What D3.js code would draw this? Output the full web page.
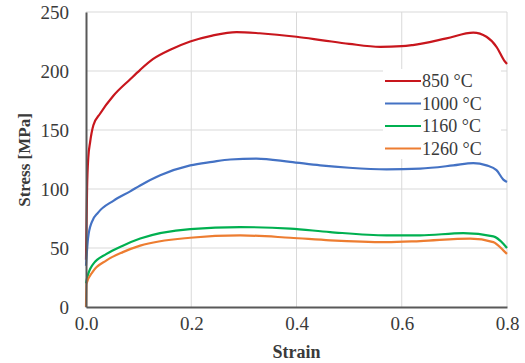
<!DOCTYPE html>
<html>
<head>
<meta charset="utf-8">
<script src="https://cdn.jsdelivr.net/npm/d3@7"></script>
<style>
  body { margin: 0; background: #fff; }
  svg text { font-family: "Liberation Serif", "Times New Roman", serif; fill: #3a3a3a; }
  .grid line { stroke: #d9d9d9; stroke-width: 1; }
  .axis path, .axis line { stroke: #595959; }
</style>
</head>
<body>
<svg width="525" height="363"></svg>
<script>
// series data (strain, stress MPa)
var seriesNames = ["850 \u00B0C", "1000 \u00B0C", "1160 \u00B0C", "1260 \u00B0C"];
var seriesColors = ["#c8161d", "#4472c4", "#00b050", "#ed7d31"];

var strain850 = [0, 0.002, 0.0044, 0.0076, 0.014, 0.027, 0.052, 0.084, 0.103, 0.127, 0.16, 0.198, 0.24, 0.286, 0.33, 0.4, 0.45, 0.5, 0.559, 0.6, 0.621, 0.685, 0.736, 0.761, 0.78, 0.796, 0.8];
var stress850 = [40, 100, 127, 139, 154, 164, 179, 193, 201, 210, 218, 225, 230, 233, 232, 229, 226, 223, 220.5, 221, 222, 227.6, 232.5, 229, 220.5, 208, 206];

var strain1000 = [0, 0.0038, 0.011, 0.023, 0.052, 0.084, 0.103, 0.141, 0.198, 0.24, 0.274, 0.324, 0.388, 0.445, 0.5, 0.571, 0.635, 0.698, 0.736, 0.761, 0.78, 0.793, 0.8];
var stress1000 = [35, 58, 72, 80, 90, 98, 103, 111.6, 120, 123, 125, 125.8, 123, 120, 118, 116.7, 117.3, 120, 122, 120, 116, 108, 106];

var strain1160 = [0, 0.001, 0.013, 0.039, 0.07, 0.103, 0.198, 0.293, 0.388, 0.464, 0.571, 0.635, 0.717, 0.774, 0.793, 0.8];
var stress1160 = [20, 22.5, 36, 45, 52, 58, 66, 67.7, 66.4, 63.5, 60.7, 60.7, 62.6, 59.8, 53.6, 50];

var strain1260 = [0, 0.001, 0.013, 0.039, 0.07, 0.103, 0.198, 0.293, 0.388, 0.464, 0.571, 0.635, 0.73, 0.774, 0.793, 0.8];
var stress1260 = [0, 19.7, 30, 39.5, 46.5, 52, 58.7, 60.7, 58.7, 56.5, 55, 55.9, 57.9, 55, 48, 45];

var xTicks = [0, 0.2, 0.4, 0.6, 0.8];
var yTicks = [0, 50, 100, 150, 200, 250];

var strains = [strain850, strain1000, strain1160, strain1260];
var stresses = [stress850, stress1000, stress1160, stress1260];

var svg = d3.select("svg"),
    margin = {top: 12, right: 18, bottom: 56, left: 86},
    width = +svg.attr("width") - margin.left - margin.right,
    height = +svg.attr("height") - margin.top - margin.bottom;

var x = d3.scaleLinear().domain([0, 0.8]).range([0, width]),
    y = d3.scaleLinear().domain([0, 250]).range([height, 0]);

var g = svg.append("g")
    .attr("transform", "translate(" + margin.left + "," + margin.top + ")");

// gridlines
g.append("g").attr("class", "grid")
  .selectAll("line.h").data(yTicks.slice(1)).enter().append("line")
    .attr("x1", 0).attr("x2", width)
    .attr("y1", function(d) { return y(d); })
    .attr("y2", function(d) { return y(d); });
g.append("g").attr("class", "grid")
  .selectAll("line.v").data(xTicks.slice(1)).enter().append("line")
    .attr("y1", 0).attr("y2", height)
    .attr("x1", function(d) { return x(d); })
    .attr("x2", function(d) { return x(d); });

// legend background hides grid behind the entries
var legend = g.append("g").attr("transform", "translate(" + (385 - margin.left) + "," + (81 - margin.top) + ")");
legend.append("rect")
    .attr("x", -2).attr("y", -12).attr("width", 118).attr("height", 90)
    .attr("fill", "#fff");

// curves
var line = d3.line()
    .x(function(d) { return x(d[0]); })
    .y(function(d) { return y(d[1]); })
    .curve(d3.curveMonotoneX);

for (var s = 0; s < seriesNames.length; s++) {
  var pts = strains[s].map(function(v, i) { return [v, stresses[s][i]]; });
  g.append("path")
      .datum(pts)
      .attr("fill", "none")
      .attr("stroke", seriesColors[s])
      .attr("stroke-width", 2.2)
      .attr("stroke-linejoin", "round")
      .attr("d", line);
}

// axes
var xAxis = d3.axisBottom(x).tickValues(xTicks).tickSize(0).tickPadding(10)
    .tickFormat(d3.format(".1f"));
var yAxis = d3.axisLeft(y).tickValues(yTicks).tickSize(0).tickPadding(17);

function styleAxis(a) {
  a.attr("font-family", null);
  a.select(".domain").attr("stroke-width", 2);
  a.selectAll("text").attr("font-size", 19);
}

g.append("g")
    .attr("class", "axis axis--x")
    .attr("transform", "translate(0," + height + ")")
    .call(xAxis)
    .call(styleAxis);

g.append("g")
    .attr("class", "axis axis--y")
    .call(yAxis)
    .call(styleAxis);

// axis titles
svg.append("text")
    .attr("x", margin.left + width / 2)
    .attr("y", 358)
    .attr("text-anchor", "middle")
    .attr("font-size", 18)
    .attr("font-weight", "bold")
    .text("Strain");

svg.append("text")
    .attr("transform", "translate(30,160) rotate(-90)")
    .attr("text-anchor", "middle")
    .attr("font-size", 17)
    .attr("font-weight", "bold")
    .text("Stress [MPa]");

// legend entries
seriesNames.forEach(function(name, i) {
  var row = legend.append("g").attr("transform", "translate(0," + (i * 22.5) + ")");
  row.append("line")
      .attr("x1", 0).attr("x2", 36).attr("y1", 0).attr("y2", 0)
      .attr("stroke", seriesColors[i]).attr("stroke-width", 2.2);
  row.append("text")
      .attr("x", 37).attr("y", 0).attr("dy", "0.35em")
      .attr("font-size", 18)
      .text(name);
});
</script>
</body>
</html>
